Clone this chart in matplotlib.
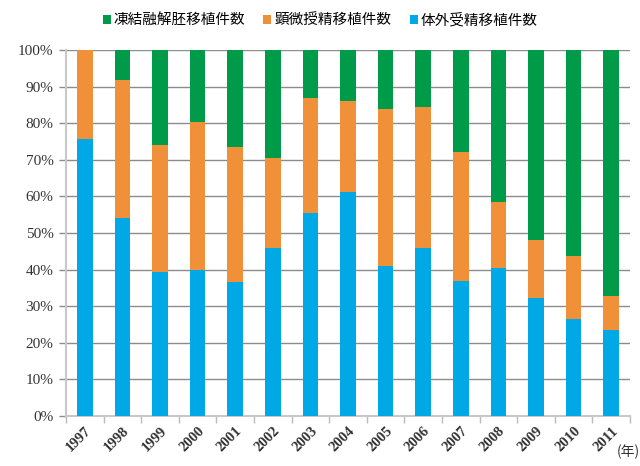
import matplotlib
matplotlib.use("Agg")
import matplotlib.pyplot as plt
import numpy as np

years = ["1997", "1998", "1999", "2000", "2001", "2002", "2003", "2004",
         "2005", "2006", "2007", "2008", "2009", "2010", "2011"]
# percent of each year's total
ivf = [75.6, 54.1, 39.3, 40.0, 36.7, 46.0, 55.5, 61.2,
       41.0, 45.8, 37.0, 40.5, 32.3, 26.5, 23.5]
icsi = [24.4, 37.6, 34.7, 40.2, 36.8, 24.5, 31.5, 24.8,
        43.0, 38.7, 35.0, 18.0, 15.7, 17.3, 9.3]
frozen = [100 - a - b for a, b in zip(ivf, icsi)]

labels = ["凍結融解胚移植件数", "顕微授精移植件数", "体外受精移植件数"]
c_green, c_orange, c_blue = "#009B48", "#F0913A", "#00A8E6"

fig = plt.figure(figsize=(6.4, 4.66), dpi=100)
ax = fig.add_axes([66 / 640, 1 - 416 / 466, (630 - 66) / 640, (416 - 50) / 466])

x = np.arange(len(years))
w = 0.42
ax.bar(x, ivf, w, color=c_blue, label=labels[2], zorder=3)
ax.bar(x, icsi, w, bottom=ivf, color=c_orange, label=labels[1], zorder=3)
ax.bar(x, frozen, w, bottom=np.array(ivf) + np.array(icsi), color=c_green,
       label=labels[0], zorder=3)

ax.set_xlim(-0.5, len(years) - 0.5)
ax.set_ylim(0, 100)
ax.set_yticks(range(0, 101, 10))
ax.set_yticklabels([f"{v}%" for v in range(0, 101, 10)],
                   fontfamily="Liberation Serif", fontsize=11, color="#333333")
ax.yaxis.grid(True, color="#8c8c8c", linewidth=1.0, zorder=0)

ax.set_xticks(x)
ax.set_xticklabels(years, rotation=45, ha="right", rotation_mode="anchor",
                   fontfamily="Liberation Serif", fontsize=10.5, fontweight="bold",
                   color="#333333")
ax.set_xticks(np.arange(-0.5, len(years)), minor=True)
ax.tick_params(axis="x", which="major", length=0, pad=6)
ax.tick_params(axis="x", which="minor", length=5, color="#bbbbbb", width=1)
ax.tick_params(axis="y", length=5, color="#8c8c8c", width=1, pad=4)

for s in ["top", "right"]:
    ax.spines[s].set_visible(False)
ax.spines["left"].set_color("#c8c8c8")
ax.spines["left"].set_linewidth(1.5)
ax.spines["bottom"].set_color("#c8c8c8")
ax.spines["bottom"].set_linewidth(1.5)

handles, lbls = ax.get_legend_handles_labels()
order = [2, 1, 0]
fig.legend([handles[i] for i in order], [lbls[i] for i in order],
           loc="center", bbox_to_anchor=(0.5, 1 - 20 / 466), ncol=3, frameon=False,
           prop={"family": ["Noto Sans CJK JP", "DejaVu Sans"], "size": 10.5},
           handlelength=0.55, handleheight=0.55, handletextpad=0.2,
           columnspacing=1.25, borderpad=0)

fig.text(628 / 640, 1 - 452 / 466, "(年)", ha="center", va="center",
         fontsize=10, color="#333333", family=["Noto Sans CJK JP", "DejaVu Sans"])

fig.savefig("out.png", dpi=100)
